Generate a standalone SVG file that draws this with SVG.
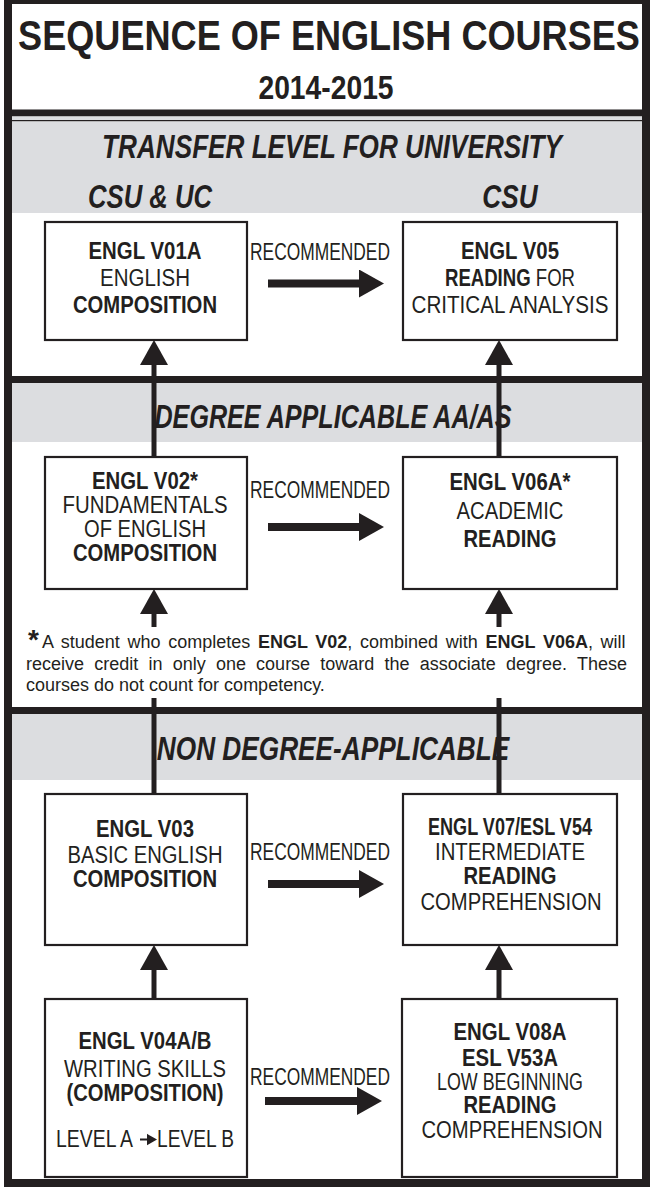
<svg xmlns="http://www.w3.org/2000/svg" width="653" height="1190" viewBox="0 0 653 1190">
<defs>
<style>
text{font-family:"Liberation Sans",Arial,Helvetica,sans-serif;fill:#231f20}
.t{font-weight:bold;font-size:42px;text-anchor:middle}
.yr{font-weight:bold;font-size:33px;text-anchor:middle}
.h{font-weight:bold;font-style:italic;font-size:33px;text-anchor:middle}
.n{font-size:23px;text-anchor:middle}
.l{font-size:23px}
.b{font-weight:bold}
.fn{font-size:18px}
.box{fill:#fff;stroke:#231f20;stroke-width:2.2}
.band{fill:#dcdde0}
.dk{fill:#231f20}
.sv{stroke:#231f20;stroke-width:5;fill:none}
.sh{stroke:#231f20;stroke-width:8;fill:none}
</style>
<marker id="ah" markerUnits="userSpaceOnUse" markerWidth="26" markerHeight="28" refX="1" refY="14" orient="auto">
<path d="M0,0 L25,14 L0,28 Z" fill="#231f20"/>
</marker>
</defs>
<rect x="0" y="0" width="653" height="1190" fill="#fff"/>
<g id="bands">
<rect class="dk" x="12" y="109.5" width="630" height="7"/>
<rect class="band" x="12" y="116.5" width="630" height="4"/>
<rect class="dk" x="12" y="120" width="630" height="1.5"/>
<rect class="band" x="12" y="121.5" width="630" height="91.5"/>
<rect class="dk" x="12" y="376" width="630" height="7"/>
<rect class="band" x="12" y="383" width="630" height="59"/>
<rect class="dk" x="12" y="707" width="630" height="7"/>
<rect class="band" x="12" y="714" width="630" height="66"/>
<rect x="8" y="0" width="638" height="1183" fill="none" stroke="#231f20" stroke-width="8"/>
</g>
<g id="title">
<text class="t" transform="translate(329 50) scale(0.86 1)" x="0" y="0" textLength="723" lengthAdjust="spacingAndGlyphs">SEQUENCE OF ENGLISH COURSES</text>
<text class="yr" transform="translate(326 99) scale(0.85 1)" x="0" y="0" textLength="159" lengthAdjust="spacingAndGlyphs">2014-2015</text>
</g>
<g id="headings">
<text class="h" transform="translate(332 158) scale(0.79 1)" x="0" y="0" textLength="582" lengthAdjust="spacingAndGlyphs">TRANSFER LEVEL FOR UNIVERSITY</text>
<text class="h" transform="translate(150 208) scale(0.79 1)" x="0" y="0" textLength="157" lengthAdjust="spacingAndGlyphs">CSU &amp; UC</text>
<text class="h" transform="translate(510 208) scale(0.79 1)" x="0" y="0" textLength="70" lengthAdjust="spacingAndGlyphs">CSU</text>
<text class="h" transform="translate(333 428) scale(0.79 1)" x="0" y="0" textLength="452" lengthAdjust="spacingAndGlyphs">DEGREE APPLICABLE AA/AS</text>
<text class="h" transform="translate(333 760) scale(0.79 1)" x="0" y="0" textLength="446" lengthAdjust="spacingAndGlyphs">NON DEGREE-APPLICABLE</text>
</g>
<g id="connectors">
<line class="sv" x1="154" y1="457" x2="154" y2="364" marker-end="url(#ah)"/>
<line class="sv" x1="499" y1="457" x2="499" y2="364" marker-end="url(#ah)"/>
<line class="sv" x1="154" y1="627" x2="154" y2="613" marker-end="url(#ah)"/>
<line class="sv" x1="154" y1="794" x2="154" y2="698"/>
<line class="sv" x1="499" y1="627" x2="499" y2="613" marker-end="url(#ah)"/>
<line class="sv" x1="499" y1="794" x2="499" y2="698"/>
<line class="sv" x1="154" y1="999" x2="154" y2="969" marker-end="url(#ah)"/>
<line class="sv" x1="499" y1="999" x2="499" y2="969" marker-end="url(#ah)"/>
<line class="sh" x1="268" y1="283.5" x2="360" y2="283.5" marker-end="url(#ah)"/>
<line class="sh" x1="268" y1="527" x2="360" y2="527" marker-end="url(#ah)"/>
<line class="sh" x1="268" y1="884" x2="360" y2="884" marker-end="url(#ah)"/>
<line class="sh" x1="265" y1="1101" x2="358" y2="1101" marker-end="url(#ah)"/>
<text class="l" x="250" y="260" textLength="140" lengthAdjust="spacingAndGlyphs">RECOMMENDED</text>
<text class="l" x="250" y="498" textLength="140" lengthAdjust="spacingAndGlyphs">RECOMMENDED</text>
<text class="l" x="250" y="860" textLength="140" lengthAdjust="spacingAndGlyphs">RECOMMENDED</text>
<text class="l" x="250" y="1085" textLength="140" lengthAdjust="spacingAndGlyphs">RECOMMENDED</text>
</g>
<g id="n-v01a">
<rect class="box" x="45" y="222" width="202" height="118"/>
<text class="n b" x="145" y="259" textLength="113" lengthAdjust="spacingAndGlyphs">ENGL V01A</text>
<text class="n" x="145" y="286" textLength="90" lengthAdjust="spacingAndGlyphs">ENGLISH</text>
<text class="n b" x="145" y="313" textLength="144" lengthAdjust="spacingAndGlyphs">COMPOSITION</text>
</g>
<g id="n-v05">
<rect class="box" x="403" y="222" width="214" height="118"/>
<text class="n b" x="510" y="259" textLength="98" lengthAdjust="spacingAndGlyphs">ENGL V05</text>
<text class="n" x="510" y="286" textLength="130" lengthAdjust="spacingAndGlyphs"><tspan class="b">READING</tspan> FOR</text>
<text class="n" x="510" y="313" textLength="197" lengthAdjust="spacingAndGlyphs">CRITICAL ANALYSIS</text>
</g>
<g id="n-v02">
<rect class="box" x="45" y="457" width="202" height="132"/>
<text class="n b" x="145" y="489" textLength="106" lengthAdjust="spacingAndGlyphs">ENGL V02*</text>
<text class="n" x="145" y="513" textLength="165" lengthAdjust="spacingAndGlyphs">FUNDAMENTALS</text>
<text class="n" x="145" y="537" textLength="122" lengthAdjust="spacingAndGlyphs">OF ENGLISH</text>
<text class="n b" x="145" y="561" textLength="144" lengthAdjust="spacingAndGlyphs">COMPOSITION</text>
</g>
<g id="n-v06a">
<rect class="box" x="403" y="457" width="214" height="132"/>
<text class="n b" x="510" y="490" textLength="121" lengthAdjust="spacingAndGlyphs">ENGL V06A*</text>
<text class="n" x="510" y="519" textLength="107" lengthAdjust="spacingAndGlyphs">ACADEMIC</text>
<text class="n b" x="510" y="547" textLength="93" lengthAdjust="spacingAndGlyphs">READING</text>
</g>
<g id="footnote">
<text class="fn" x="28" y="649"><tspan class="b" font-size="28">*</tspan></text>
<text class="fn" x="42" y="648" word-spacing="2.7">A student who completes <tspan class="b">ENGL V02</tspan>, combined with <tspan class="b">ENGL V06A</tspan>, will</text>
<text class="fn" x="26" y="670" word-spacing="5.2">receive credit in only one course toward the associate degree. These</text>
<text class="fn" x="26" y="691">courses do not count for competency.</text>
</g>
<g id="n-v03">
<rect class="box" x="45" y="794" width="202" height="151"/>
<text class="n b" x="145" y="837" textLength="98" lengthAdjust="spacingAndGlyphs">ENGL V03</text>
<text class="n" x="145" y="863" textLength="155" lengthAdjust="spacingAndGlyphs">BASIC ENGLISH</text>
<text class="n b" x="145" y="887" textLength="144" lengthAdjust="spacingAndGlyphs">COMPOSITION</text>
</g>
<g id="n-v07">
<rect class="box" x="403" y="794" width="214" height="151"/>
<text class="n b" x="510" y="835" textLength="164" lengthAdjust="spacingAndGlyphs">ENGL V07/ESL V54</text>
<text class="n" x="510" y="860" textLength="150" lengthAdjust="spacingAndGlyphs">INTERMEDIATE</text>
<text class="n b" x="510" y="884" textLength="93" lengthAdjust="spacingAndGlyphs">READING</text>
<text class="n" x="511" y="910" textLength="181" lengthAdjust="spacingAndGlyphs">COMPREHENSION</text>
</g>
<g id="n-v04ab">
<rect class="box" x="45" y="999" width="202" height="178"/>
<text class="n b" x="145" y="1049" textLength="133" lengthAdjust="spacingAndGlyphs">ENGL V04A/B</text>
<text class="n" x="145" y="1077" textLength="162" lengthAdjust="spacingAndGlyphs">WRITING SKILLS</text>
<text class="n b" x="145" y="1101" textLength="157" lengthAdjust="spacingAndGlyphs">(COMPOSITION)</text>
<text class="l" x="56" y="1147" textLength="77" lengthAdjust="spacingAndGlyphs">LEVEL A</text>
<path d="M140,1139.5 H149 M148,1135.5 L155,1139.5 L148,1143.5 Z" fill="#231f20" stroke="#231f20" stroke-width="2"/>
<text class="l" x="157" y="1147" textLength="77" lengthAdjust="spacingAndGlyphs">LEVEL B</text>
</g>
<g id="n-v08a">
<rect class="box" x="402" y="999" width="215" height="178"/>
<text class="n b" x="510" y="1040" textLength="113" lengthAdjust="spacingAndGlyphs">ENGL V08A</text>
<text class="n b" x="510" y="1066" textLength="96" lengthAdjust="spacingAndGlyphs">ESL V53A</text>
<text class="n" x="510" y="1090" textLength="146" lengthAdjust="spacingAndGlyphs">LOW BEGINNING</text>
<text class="n b" x="510" y="1113" textLength="93" lengthAdjust="spacingAndGlyphs">READING</text>
<text class="n" x="512" y="1138" textLength="181" lengthAdjust="spacingAndGlyphs">COMPREHENSION</text>
</g>
</svg>
